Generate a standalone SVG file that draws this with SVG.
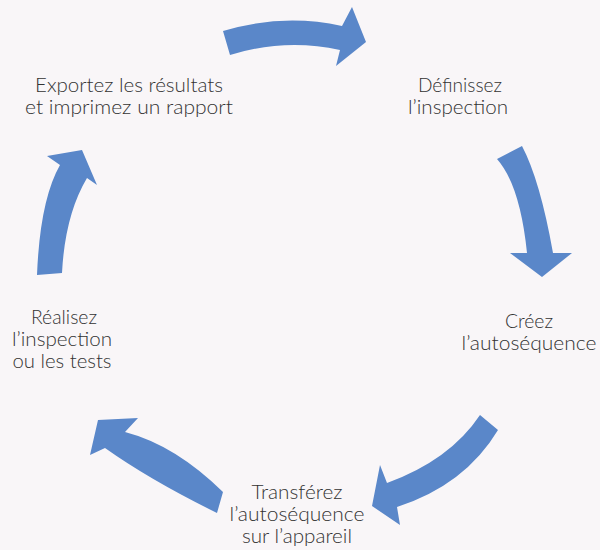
<svg xmlns="http://www.w3.org/2000/svg" width="600" height="550" viewBox="0 0 600 550">
<style>
.bg{fill:#f9f6f8}
.lbl{font-family:Lato,"Noto Sans","Liberation Sans",sans-serif;font-size:20px;font-weight:300;fill:#333333;text-anchor:middle}
.arr{fill:#5a87c9;stroke:none}
</style>
<rect class="bg" x="0" y="0" width="600" height="550"/>
<g id="connectors">
<path class="arr" d="M223,31 Q283,13 342,26 L352,7 L366,42 L336,66 L340,50 Q285,38 230,55 Z"/>
<path class="arr" d="M522,146 Q540,180 553,253 L572,253 L542,277 L510,253 L527,253 Q520,185 497,159 Z"/>
<path class="arr" d="M480,415 Q450,460 387,483 L380,465 L372,506 L400,525 L397,507 Q465,485 498,430 Z"/>
<path class="arr" d="M223,492 Q175,445 125,432 L138,418 L98,420 L90,455 L105,448 Q150,480 217,513 Z"/>
<path class="arr" d="M37,275 Q40,200 60,165 L47,156 L82,150 L97,185 L87,178 Q65,215 62,273 Z"/>
</g>
<g id="node-export">
<text class="lbl" x="129" y="92" textLength="188" lengthAdjust="spacingAndGlyphs">Exportez les résultats</text>
<text class="lbl" x="129" y="114" textLength="208" lengthAdjust="spacingAndGlyphs">et imprimez un rapport</text>
</g>
<g id="node-define">
<text class="lbl" x="460" y="92" textLength="84" lengthAdjust="spacingAndGlyphs">Définissez</text>
<text class="lbl" x="458" y="114" textLength="100" lengthAdjust="spacingAndGlyphs">l’inspection</text>
</g>
<g id="node-create">
<text class="lbl" x="529" y="328" textLength="48" lengthAdjust="spacingAndGlyphs">Créez</text>
<text class="lbl" x="529" y="350" textLength="135" lengthAdjust="spacingAndGlyphs">l’autoséquence</text>
</g>
<g id="node-transfer">
<text class="lbl" x="297" y="499" textLength="91" lengthAdjust="spacingAndGlyphs">Transférez</text>
<text class="lbl" x="297" y="521" textLength="135" lengthAdjust="spacingAndGlyphs">l’autoséquence</text>
<text class="lbl" x="297" y="543" textLength="110" lengthAdjust="spacingAndGlyphs">sur l’appareil</text>
</g>
<g id="node-perform">
<text class="lbl" x="64" y="324" textLength="66" lengthAdjust="spacingAndGlyphs">Réalisez</text>
<text class="lbl" x="62" y="346" textLength="100" lengthAdjust="spacingAndGlyphs">l’inspection</text>
<text class="lbl" x="62" y="368" textLength="99" lengthAdjust="spacingAndGlyphs">ou les tests</text>
</g>
</svg>
